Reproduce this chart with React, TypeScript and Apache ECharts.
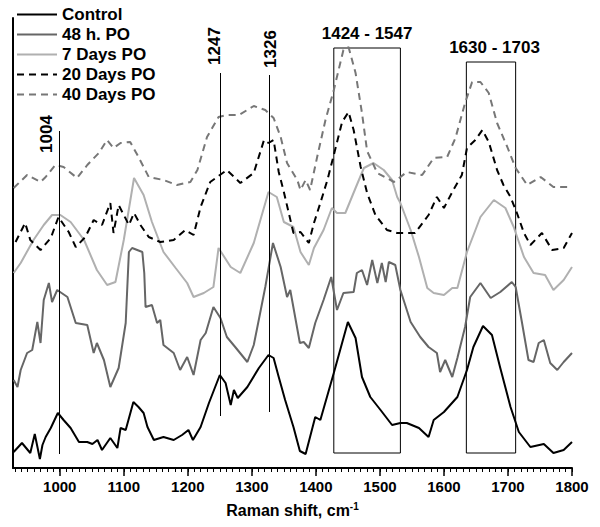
import React, { useEffect, useRef } from "react";
import * as echarts from "echarts";

// Raman shift (cm-1) and relative intensity (arbitrary units, offset stacked)
const controlData: [number, number][] = [
  [928, 16], [941, 25], [954, 15], [961, 34], [969, 9], [973, 23], [978, 31], [986, 40], [997, 55],
  [1006, 48], [1017, 40], [1030, 26], [1043, 26], [1051, 24], [1059, 28], [1066, 18], [1079, 30],
  [1090, 20], [1095, 40], [1103, 38], [1115, 66], [1123, 61], [1131, 55], [1137, 41], [1147, 28],
  [1162, 31], [1178, 28], [1191, 33], [1201, 38], [1208, 28], [1220, 41], [1233, 65], [1250, 93],
  [1259, 85], [1267, 63], [1272, 78], [1278, 70], [1293, 81], [1311, 100], [1326, 113], [1334, 110],
  [1342, 91], [1352, 68], [1365, 41], [1375, 17], [1384, 14], [1399, 51], [1407, 48], [1428, 95],
  [1450, 146], [1462, 130], [1472, 91], [1485, 71], [1501, 58], [1519, 43], [1532, 45], [1542, 45],
  [1561, 40], [1576, 31], [1584, 48], [1600, 56], [1621, 71], [1636, 98], [1646, 121], [1661, 142],
  [1675, 133], [1688, 100], [1704, 61], [1717, 36], [1735, 21], [1756, 24], [1771, 15], [1787, 18],
  [1800, 26]
];

const h48Data: [number, number][] = [
  [928, 88], [934, 81], [939, 98], [949, 115], [957, 118], [965, 146], [970, 125], [975, 168],
  [983, 185], [988, 166], [996, 178], [1012, 171], [1025, 145], [1043, 143], [1053, 115], [1058, 125],
  [1069, 108], [1079, 81], [1092, 100], [1103, 145], [1108, 216], [1113, 220], [1129, 216], [1132, 195],
  [1134, 161], [1144, 163], [1152, 145], [1157, 148], [1162, 123], [1178, 115], [1188, 98], [1199, 111],
  [1209, 93], [1220, 128], [1228, 135], [1240, 161], [1251, 150], [1261, 131], [1274, 121], [1293, 106],
  [1303, 123], [1313, 155], [1321, 181], [1333, 225], [1345, 201], [1355, 171], [1360, 178], [1375, 125],
  [1381, 126], [1389, 120], [1399, 145], [1412, 168], [1424, 191], [1433, 158], [1443, 175], [1459, 176],
  [1464, 195], [1472, 198], [1480, 183], [1488, 208], [1496, 185], [1503, 205], [1509, 186], [1514, 206],
  [1524, 203], [1532, 178], [1537, 168], [1548, 146], [1563, 131], [1576, 121], [1589, 115], [1594, 96],
  [1602, 108], [1613, 91], [1621, 110], [1633, 141], [1641, 171], [1657, 185], [1673, 170], [1688, 176],
  [1706, 186], [1712, 181], [1722, 145], [1732, 108], [1740, 106], [1748, 125], [1756, 128], [1766, 105],
  [1777, 98], [1787, 106], [1800, 115]
];

const d7Data: [number, number][] = [
  [928, 195], [939, 205], [959, 228], [975, 243], [988, 253], [1001, 253], [1017, 246], [1038, 228],
  [1058, 198], [1074, 183], [1087, 186], [1100, 228], [1116, 290], [1131, 273], [1144, 246], [1162, 216],
  [1181, 200], [1199, 185], [1209, 171], [1225, 175], [1240, 181], [1248, 220], [1267, 201], [1282, 195],
  [1303, 225], [1326, 276], [1339, 271], [1350, 246], [1365, 241], [1376, 216], [1389, 203], [1397, 220],
  [1412, 238], [1425, 260], [1433, 255], [1446, 255], [1462, 280], [1475, 300], [1490, 305], [1506, 298],
  [1519, 288], [1527, 271], [1532, 265], [1548, 238], [1561, 211], [1574, 180], [1584, 175], [1600, 173],
  [1613, 180], [1621, 180], [1636, 216], [1657, 251], [1678, 268], [1696, 260], [1709, 241], [1725, 211],
  [1740, 195], [1758, 193], [1771, 178], [1787, 188], [1800, 201]
];

const d20Data: [number, number][] = [
  [931, 226], [946, 245], [954, 228], [970, 218], [986, 230], [998, 251], [1014, 236], [1025, 221],
  [1040, 231], [1053, 248], [1066, 243], [1079, 265], [1084, 235], [1092, 263], [1100, 253], [1108, 243],
  [1116, 255], [1126, 243], [1139, 231], [1157, 226], [1178, 228], [1196, 238], [1209, 233], [1220, 261],
  [1235, 286], [1261, 298], [1282, 285], [1303, 295], [1319, 328], [1326, 325], [1334, 328], [1342, 296],
  [1350, 276], [1365, 235], [1376, 236], [1389, 225], [1397, 245], [1407, 265], [1418, 288], [1428, 313],
  [1441, 346], [1451, 356], [1459, 338], [1470, 301], [1480, 275], [1493, 253], [1511, 238], [1527, 235],
  [1555, 235], [1576, 253], [1589, 271], [1600, 260], [1613, 276], [1628, 293], [1636, 320], [1649, 328],
  [1660, 338], [1670, 326], [1683, 298], [1693, 283], [1704, 271], [1714, 255], [1725, 235], [1735, 223],
  [1753, 235], [1769, 218], [1787, 220], [1800, 235]
];

const d40Data: [number, number][] = [
  [928, 280], [949, 293], [970, 286], [978, 291], [993, 303], [1006, 301], [1027, 290], [1043, 303],
  [1061, 315], [1074, 328], [1084, 320], [1095, 325], [1110, 326], [1123, 311], [1139, 291], [1162, 288],
  [1183, 283], [1204, 286], [1215, 298], [1230, 331], [1248, 351], [1261, 353], [1280, 353], [1303, 362],
  [1321, 358], [1334, 350], [1345, 331], [1355, 305], [1371, 288], [1376, 278], [1384, 288], [1391, 278],
  [1402, 311], [1415, 348], [1428, 378], [1443, 418], [1451, 421], [1462, 395], [1472, 355], [1480, 317],
  [1496, 295], [1522, 286], [1542, 296], [1566, 293], [1584, 310], [1605, 311], [1618, 330], [1633, 365],
  [1644, 386], [1657, 386], [1670, 375], [1683, 345], [1699, 321], [1712, 300], [1730, 283], [1751, 291],
  [1771, 281], [1797, 281]
];

const seriesNames = ["Control", "48 h. PO", "7 Days PO", "20 Days PO", "40 Days PO"];
const majorTicks = [1000, 1100, 1200, 1300, 1400, 1500, 1600, 1700, 1800];
const bandLines = [
  { label: "1004", x: 1000, from: 14, to: 337, labelX: 980, labelY: 334 },
  { label: "1247", x: 1250, from: 52, to: 395, labelX: 1241, labelY: 422 },
  { label: "1326", x: 1327, from: 56, to: 393, labelX: 1329, labelY: 419 },
];
const bandBoxes = [
  { label: "1424 - 1547", x0: 1428, x1: 1532, y0: 15, y1: 420, labelX: 1480, labelY: 435 },
  { label: "1630 - 1703", x0: 1635, x1: 1712, y0: 15, y1: 406, labelX: 1679, labelY: 421 },
];

const xMin = 927;
const xMax = 1800;
const FONT = "'Liberation Sans', Arial, sans-serif";

export default function App() {
  const ref = useRef<HTMLDivElement>(null);
  useEffect(() => {
    document.body.style.margin = "0";
    if (!ref.current) return;
    const chart = echarts.init(ref.current, null, { renderer: "svg" });
    const minorTicks: number[] = [];
    for (let v = 930; v <= 1800; v += 10) minorTicks.push(v);

    const lineSeries = (name: string, data: [number, number][], color: string, dashed: boolean) => ({
      name,
      type: "line",
      data,
      symbol: "none",
      showSymbol: false,
      smooth: false,
      z: 3,
      lineStyle: { color, width: 2, type: dashed ? [7, 5] : "solid" },
      itemStyle: { color },
    });

    const control: any = lineSeries(seriesNames[0], controlData, "#000000", false);
    control.markLine = {
      silent: true,
      symbol: "none",
      animation: false,
      lineStyle: { color: "#000", width: 1, type: "solid" },
      label: { show: false },
      data: bandLines.map((b) => [{ coord: [b.x, b.from] }, { coord: [b.x, b.to] }]),
    };
    control.markArea = {
      silent: true,
      itemStyle: { color: "rgba(0,0,0,0)", borderColor: "#000", borderWidth: 1 },
      data: bandBoxes.map((b) => [{ coord: [b.x0, b.y0] }, { coord: [b.x1, b.y1] }]),
    };
    control.markPoint = {
      silent: true,
      symbol: "circle",
      symbolSize: 0,
      data: [
        ...bandLines.map((b) => ({
          coord: [b.labelX, b.labelY],
          label: { show: true, formatter: b.label, rotate: 90, position: "inside", color: "#000", fontFamily: FONT, fontWeight: "bold", fontSize: 17 },
        })),
        ...bandBoxes.map((b) => ({
          coord: [b.labelX, b.labelY],
          label: { show: true, formatter: b.label, position: "inside", color: "#000", fontFamily: FONT, fontWeight: "bold", fontSize: 17 },
        })),
      ],
    };

    chart.setOption({
      animation: false,
      backgroundColor: "#ffffff",
      textStyle: { fontFamily: FONT },
      grid: { left: 13, right: 28, top: 18, bottom: 59, containLabel: false },
      legend: {
        orient: "vertical",
        left: 16,
        top: 6,
        padding: 0,
        itemWidth: 40,
        itemHeight: 14,
        itemGap: 3,
        data: seriesNames,
        itemStyle: { opacity: 0 },
        textStyle: { fontFamily: FONT, fontWeight: "bold", fontSize: 17, color: "#000" },
      },
      xAxis: [
        {
          type: "value",
          min: xMin,
          max: xMax,
          position: "bottom",
          splitLine: { show: false },
          axisLine: { show: true, lineStyle: { color: "#000", width: 2 } },
          axisTick: { show: true, customValues: majorTicks, length: 8, lineStyle: { color: "#000", width: 1.5 } },
          axisLabel: {
            customValues: majorTicks,
            formatter: (v: number) => String(v),
            margin: 11,
            color: "#000",
            fontFamily: FONT,
            fontWeight: "bold",
            fontSize: 15,
          },
          name: "{a|Raman shift, cm}{b|-1}",
          nameLocation: "middle",
          nameGap: 33,
          nameTextStyle: {
            rich: {
              a: { fontFamily: FONT, fontWeight: "bold", fontSize: 16, color: "#000" },
              b: { fontFamily: FONT, fontWeight: "bold", fontSize: 10, color: "#000", verticalAlign: "top", padding: [0, 0, 8, 0] },
            },
          },
        },
        {
          type: "value",
          min: xMin,
          max: xMax,
          position: "bottom",
          splitLine: { show: false },
          axisLine: { show: false },
          axisTick: { show: true, customValues: minorTicks, length: 4, lineStyle: { color: "#000", width: 1 } },
          axisLabel: { show: false },
        },
      ],
      yAxis: {
        type: "value",
        min: 0,
        max: 450,
        splitLine: { show: false },
        axisLine: { show: true, lineStyle: { color: "#000", width: 2 } },
        axisTick: { show: false },
        axisLabel: { show: false },
      },
      series: [
        control,
        lineSeries(seriesNames[1], h48Data, "#666666", false),
        lineSeries(seriesNames[2], d7Data, "#b0b0b0", false),
        lineSeries(seriesNames[3], d20Data, "#000000", true),
        lineSeries(seriesNames[4], d40Data, "#777777", true),
      ],
    });
    return () => chart.dispose();
  }, []);
  return <div ref={ref} style={{ width: 600, height: 527 }} />;
}
